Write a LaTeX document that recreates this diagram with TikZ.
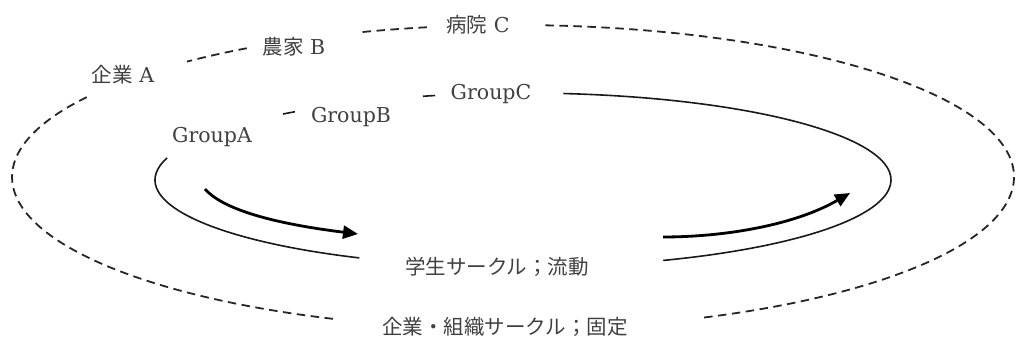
\documentclass[tikz,border=0pt]{standalone}
\usepackage{fontspec}
\setmainfont{DejaVu Serif}
\newfontfamily\jp{Noto Sans CJK JP}
\usetikzlibrary{arrows.meta,calc}
\tikzset{
  lbl/.style={font=\fontsize{20.5}{25}\selectfont, text=black!75, inner sep=0pt},
  dline/.style={line width=1.8pt, dash pattern=on 8.5pt off 5.5pt, black!85},
  sline/.style={line width=1.6pt, black!90},
  flow/.style={line width=2.8pt, black, -{Triangle[length=15pt,width=13pt]}}
}
\begin{document}
\begin{tikzpicture}[x=1pt,y=1pt]
\useasboundingbox (0,0) rectangle (1016,347);
% labels
\node[lbl] (A) at (123,272) {{\jp 企業} A};
\node[lbl] (B) at (294,300) {{\jp 農家} B};
\node[lbl] (C) at (478,322) {{\jp 病院} C};
\node[lbl] (gA) at (212,210) {GroupA};
\node[lbl] (gB) at (351,230) {GroupB};
\node[lbl] (gC) at (491,253) {GroupC};
\node[lbl] (stu) at (497,80) {\jp 学生サークル；流動};
\node[lbl] (org) at (505,20) {\jp 企業・組織サークル；固定};
% centres of the two loops
\coordinate (oc) at (513,170);
\coordinate (ic) at (523,167);
% outer dashed loop
\draw[dline] (oc) ++(86.3:501pt and 152pt) arc[start angle=86.3, end angle=-67.8, x radius=501pt, y radius=152pt];
\draw[dline] (oc) ++(148.3:501pt and 152pt) arc[start angle=148.3, end angle=249, x radius=501pt, y radius=152pt];
\draw[dline] (oc) ++(122.1:501pt and 152pt) arc[start angle=122.1, end angle=130.6, x radius=501pt, y radius=152pt];
\draw[dline] (oc) ++(99.9:501pt and 152pt) arc[start angle=99.9, end angle=107.9, x radius=501pt, y radius=152pt];
% inner solid loop
\draw[sline] (ic) ++(83.7:368pt and 87pt) arc[start angle=83.7, end angle=-67.6, x radius=368pt, y radius=87pt];
\draw[sline] (ic) ++(165.3:368pt and 87pt) arc[start angle=165.3, end angle=243.6, x radius=368pt, y radius=87pt];
\draw[sline] (ic) ++(128.3:368pt and 87pt) arc[start angle=128.3, end angle=130.7, x radius=368pt, y radius=87pt];
\draw[sline] (ic) ++(103.8:368pt and 87pt) arc[start angle=103.8, end angle=105.8, x radius=368pt, y radius=87pt];
% flow arrows
\coordinate (f1s) at (205,158);
\coordinate (f1e) at (358,113);
\coordinate (f2s) at (663,110);
\coordinate (f2e) at (850,154);
\draw[flow] (f1s) .. controls (225,135) and (285,122) .. (f1e);
\draw[flow] (f2s) .. controls (725,110) and (795,122) .. (f2e);
\end{tikzpicture}
\end{document}
